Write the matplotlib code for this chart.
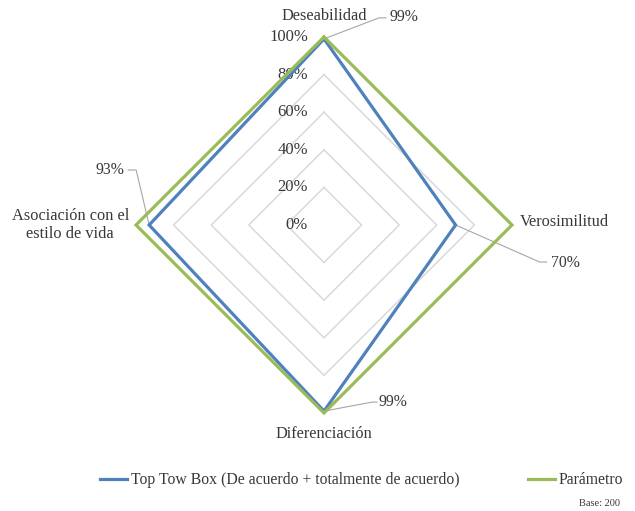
import numpy as np
import matplotlib
matplotlib.use("Agg")
import matplotlib.pyplot as plt

# Data
categories = ["Deseabilidad", "Verosimilitud", "Diferenciación",
              "Asociación con el\nestilo de vida"]
top_two_box = [0.99, 0.70, 0.99, 0.93]
parametro = [1.00, 1.00, 1.00, 1.00]
ring_values = [0.0, 0.2, 0.4, 0.6, 0.8, 1.0]
ring_labels = ["0%", "20%", "40%", "60%", "80%", "100%"]
series_names = ["Top Tow Box (De acuerdo + totalmente de acuerdo)", "Parámetro"]
base_note = "Base: 200"

plt.rcParams["font.family"] = ["Liberation Serif", "DejaVu Serif"]

W, H, DPI = 635, 511, 100
CX, CY, R_PX = 324, 225, 188          # plot centre and 100% radius, in pixels
TXT = "#383838"

fig = plt.figure(figsize=(W / DPI, H / DPI), dpi=DPI)
ax = fig.add_axes([0, 0, 1, 1])
ax.set_xlim(-CX / R_PX, (W - CX) / R_PX)
ax.set_ylim(-(H - CY) / R_PX, CY / R_PX)
ax.axis("off")

n = len(categories)
theta = np.arange(n) * 2 * np.pi / n   # clockwise from the top


def to_xy(values):
    v = np.asarray(values, dtype=float)
    return v * np.sin(theta), v * np.cos(theta)


def closed(a):
    return np.append(a, a[0])


def px(d):
    return d / R_PX

# Polygon gridlines
GRID = "#d9d9d9"
for rv in ring_values[1:]:
    gx, gy = to_xy([rv] * n)
    ax.plot(closed(gx), closed(gy), color=GRID, lw=1.1, zorder=1)

# Radial tick labels along the top axis
for rv, lab in zip(ring_values, ring_labels):
    ax.text(px(-16), rv, lab, ha="right", va="center", fontsize=12,
            color=TXT, zorder=2)

# Series
BLUE, GREEN = "#4F81BD", "#9BBB59"
bx, by = to_xy(top_two_box)
gx, gy = to_xy(parametro)
l1, = ax.plot(closed(bx), closed(by), color=BLUE, lw=2.3, zorder=3,
              solid_joinstyle="miter", label=series_names[0])
l2, = ax.plot(closed(gx), closed(gy), color=GREEN, lw=2.3, zorder=4,
              solid_joinstyle="miter", label=series_names[1])

# Category labels
FS = 11.8
ax.text(0, 1 + px(21), categories[0], ha="center", va="center", fontsize=FS, color=TXT)
ax.text(1 + px(8), px(3), categories[1], ha="left", va="center", fontsize=FS, color=TXT)
ax.text(0, -1 - px(21), categories[2], ha="center", va="center", fontsize=FS, color=TXT)
ax.text(-1 - px(7), 0, categories[3], ha="right", va="center", fontsize=FS,
        color=TXT, multialignment="center", linespacing=1.15)

# Value labels with leader lines (bend point, elbow end, text anchor in pixel offsets)
leaders = [
    ((55, -21), (62, -21), (66, -22), "left"),
    ((84, 37), (91, 37), (95, 38), "left"),
    ((48, -9), (53, -9), (55, -9), "left"),
    ((-13, -55), (-21, -55), (-25, -55), "right"),
]
LEAD = "#a6a6a6"
for (val, x0, y0, (p1, p2, pt, ha)) in zip(top_two_box, bx, by, leaders):
    xs = [x0, x0 + px(p1[0]), x0 + px(p2[0])]
    ys = [y0, y0 - px(p1[1]), y0 - px(p2[1])]
    ax.plot(xs, ys, color=LEAD, lw=0.8, zorder=2)
    ax.text(x0 + px(pt[0]), y0 - px(pt[1]), f"{val:.0%}", ha=ha, va="center",
            fontsize=11.3, color=TXT, zorder=5)

# Legend
leg = fig.legend(handles=[l1, l2], loc="center left",
                 bbox_to_anchor=(100 / W, 1 - 480 / H), ncol=2, frameon=False,
                 fontsize=11.3, handlelength=1.75, handletextpad=0.25,
                 columnspacing=4.3, borderaxespad=0, borderpad=0)
for t in leg.get_texts():
    t.set_color(TXT)

fig.text(620 / W, 1 - 503 / H, base_note, ha="right", va="center",
         fontsize=7.5, color=TXT)

fig.savefig("out.png", dpi=DPI)
